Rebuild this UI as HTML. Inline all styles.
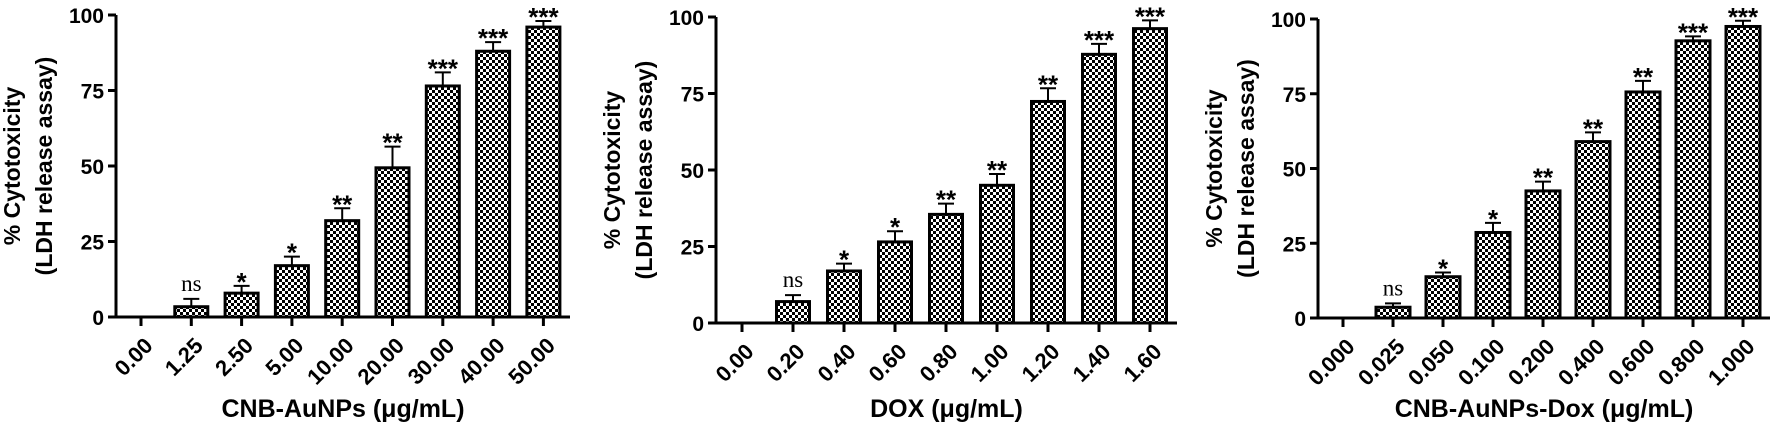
<!DOCTYPE html>
<html><head><meta charset="utf-8"><style>
html,body{margin:0;padding:0;background:#fff;}
svg text{font-family:"Liberation Sans",Arial,sans-serif;font-weight:bold;fill:#000;}
</style></head><body>
<svg id="fig" width="1772" height="426" viewBox="0 0 1772 426" xmlns="http://www.w3.org/2000/svg">
<defs>
<pattern id="chk" width="6" height="6" patternUnits="userSpaceOnUse">
<rect width="6" height="6" fill="#fff"/><rect width="3" height="3" fill="#000"/><rect x="3" y="3" width="3" height="3" fill="#000"/>
</pattern>
</defs>
</svg>
<script>
const cats1=["0.00","1.25","2.50","5.00","10.00","20.00","30.00","40.00","50.00"];
const vals1=[0,3.4,7.9,17,31.9,49.4,76.5,88,96];
const errs1=[0,2.6,2.4,3,4.1,7,4.5,3,2];
const sig1=["","ns","*","*","**","**","***","***","***"];
const cats2=["0.00","0.20","0.40","0.60","0.80","1.00","1.20","1.40","1.60"];
const vals2=[0,7,17,26.5,35.5,45,72.4,87.8,96.2];
const errs2=[0,2.1,2.4,3.5,3.5,3.7,4.3,3.4,2.7];
const sig2=["","ns","*","*","**","**","**","***","***"];
const cats3=["0.000","0.025","0.050","0.100","0.200","0.400","0.600","0.800","1.000"];
const vals3=[0,3.6,13.8,28.6,42.5,59,75.6,92.7,97.5];
const errs3=[0,1.3,1.4,3.2,3.1,3.1,3.7,1.5,1.9];
const sig3=["","ns","*","*","**","**","**","***","***"];
const yTicks=[0,25,50,75,100];
const xTitles=["CNB-AuNPs (\u03bcg/mL)","DOX (\u03bcg/mL)","CNB-AuNPs-Dox (\u03bcg/mL)"];

const NS="http://www.w3.org/2000/svg";
const svg=document.getElementById('fig');
function mk(tag,attrs,parent){const e=document.createElementNS(NS,tag);for(const k in attrs)e.setAttribute(k,attrs[k]);(parent||svg).appendChild(e);return e;}

const panels=[
 {ax:116,xEnd:570,y0:317,y100:15,x0:141,dx:50.3,bw:33,cats:cats1,vals:vals1,errs:errs1,sig:sig1,title:xTitles[0]},
 {ax:716,xEnd:1177,y0:323,y100:17,x0:742,dx:51,bw:33,cats:cats2,vals:vals2,errs:errs2,sig:sig2,title:xTitles[1]},
 {ax:1318,xEnd:1770,y0:318,y100:19,x0:1343,dx:50,bw:34,cats:cats3,vals:vals3,errs:errs3,sig:sig3,title:xTitles[2]}
];
panels.forEach((p,pi)=>{
 const g=mk('g',{});
 
 
 const y=v=>p.y0-(v/100)*(p.y0-p.y100);
 const x=i=>p.x0+i*p.dx;
 p.vals.forEach((v,i)=>{
  if(v>0){
   const r=mk('rect',{x:x(i)-p.bw/2,y:y(v),width:p.bw,height:p.y0-y(v),fill:'url(#chk)',stroke:'#000','stroke-width':3},g);
   
   
   const top=y(v+p.errs[i]);
   const eb=mk('path',{d:`M${x(i)} ${y(v)} V${top} M${x(i)-8} ${top} H${x(i)+8}`,stroke:'#000','stroke-width':2,fill:'none'},g);
   
   
  }
  if(p.sig[i]){
   const isNs=p.sig[i]==='ns';
   const t=mk('text',{x:x(i),y:y(v+p.errs[i])-(isNs?8:-5),'text-anchor':'middle','font-size':isNs?23:26},g);
   if(isNs){t.style.fontFamily='"Liberation Serif",serif';t.style.fontWeight='normal';}
   t.textContent=p.sig[i];
   
   
  }
 });
 const axl=mk('path',{d:`M${p.ax} ${p.y100} V${p.y0} H${p.xEnd}`,stroke:'#000','stroke-width':3,fill:'none'},g);
 
 
 yTicks.forEach(t=>{
  mk('line',{x1:p.ax-8,x2:p.ax,y1:y(t),y2:y(t),stroke:'#000','stroke-width':3},g);
  const tl=mk('text',{x:p.ax-12,y:y(t)+8,'text-anchor':'end','font-size':21},g);
  tl.textContent=t;
  
  
 });
 p.cats.forEach((c,i)=>{
  mk('line',{x1:x(i),x2:x(i),y1:p.y0,y2:p.y0+9,stroke:'#000','stroke-width':3},g);
  const lx=x(i)+13, ly=p.y0+30;
  const tl=mk('text',{x:lx,y:ly,'text-anchor':'end','font-size':22,transform:`rotate(-45 ${lx} ${ly})`},g);
  tl.textContent=c;
  
  
 });
 const xt=mk('text',{x:(p.ax+p.xEnd)/2,y:417,'text-anchor':'middle','font-size':25},g);
 xt.textContent=p.title;
 
 
 const cy=(p.y0+p.y100)/2;
 [["% Cytotoxicity",p.ax-104],["(LDH release assay)",p.ax-72]].forEach(([s,lx])=>{
  const yt=mk('text',{x:lx,y:cy,'text-anchor':'middle','dominant-baseline':'central','font-size':23,transform:`rotate(-90 ${lx} ${cy})`},g);
  yt.textContent=s;
  
  
 });
});
</script>
</body></html>
